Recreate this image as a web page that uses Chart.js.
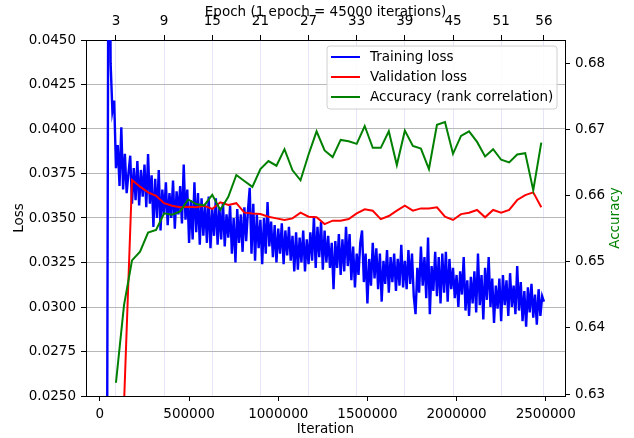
<!DOCTYPE html>
<html>
<head>
<meta charset="utf-8">
<script src="https://cdn.jsdelivr.net/npm/chart.js@4.4.0/dist/chart.umd.min.js"></script>
<style>
  body { margin: 0; background: #fff; }
  #wrap { width: 634px; height: 438px; }
</style>
</head>
<body>
<div id="wrap"><canvas id="myChart" width="634" height="438"></canvas></div>
<script>
// training loss, one value every 10000 iterations starting at 40000
let trainStart = 40000;
let trainStep = 10000;
let trainLoss = [
  0.0200, 0.0620, 0.0437, 0.0410, 0.0416, 0.0378, 0.0391, 0.0368, 0.0401, 0.0366,
  0.0386, 0.0364, 0.0375, 0.0385, 0.0358, 0.0378, 0.0360, 0.0382, 0.0357, 0.0377,
  0.0362, 0.0380, 0.0356, 0.0386, 0.0358, 0.0374, 0.0345, 0.0372, 0.0350, 0.0377,
  0.0343, 0.0366, 0.0352, 0.0370, 0.0346, 0.0364, 0.0350, 0.0371, 0.0344, 0.0365,
  0.0352, 0.0368, 0.0347, 0.0380, 0.0349, 0.0366, 0.0336, 0.0360, 0.0338, 0.0370,
  0.0342, 0.0364, 0.0335, 0.0361, 0.0340, 0.0358, 0.0336, 0.0362, 0.0333, 0.0355,
  0.0340, 0.0361, 0.0335, 0.0356, 0.0338, 0.0359, 0.0334, 0.0352, 0.0339, 0.0357,
  0.0330, 0.0350, 0.0325, 0.0355, 0.0336, 0.0352, 0.0331, 0.0356, 0.0337, 0.0354,
  0.0367, 0.0330, 0.0358, 0.0326, 0.0352, 0.0333, 0.0349, 0.0324, 0.0350, 0.0330,
  0.0359, 0.0334, 0.0348, 0.0328, 0.0346, 0.0325, 0.0344, 0.0330, 0.0347, 0.0324,
  0.0343, 0.0329, 0.0345, 0.0326, 0.0340, 0.0320, 0.0342, 0.0321, 0.0339, 0.0325,
  0.0343, 0.0320, 0.0338, 0.0324, 0.0342, 0.0326, 0.0351, 0.0322, 0.0345, 0.0328,
  0.0348, 0.0321, 0.0343, 0.0325, 0.0340, 0.0322, 0.0336, 0.0310, 0.0337, 0.0322,
  0.0341, 0.0318, 0.0338, 0.0320, 0.0345, 0.0323, 0.0341, 0.0315, 0.0334, 0.0311,
  0.0330, 0.0318, 0.0336, 0.0343, 0.0314, 0.0330, 0.0302, 0.0327, 0.0312, 0.0336,
  0.0316, 0.0333, 0.0310, 0.0330, 0.0303, 0.0326, 0.0313, 0.0332, 0.0308, 0.0328,
  0.0314, 0.0330, 0.0309, 0.0327, 0.0312, 0.0335, 0.0311, 0.0326, 0.0310, 0.0332,
  0.0313, 0.0330, 0.0306, 0.0296, 0.0322, 0.0308, 0.0334, 0.0312, 0.0328, 0.0305,
  0.0339, 0.0296, 0.0323, 0.0309, 0.0331, 0.0306, 0.0328, 0.0302, 0.0330, 0.0308,
  0.0331, 0.0303, 0.0327, 0.0310, 0.0322, 0.0305, 0.0318, 0.0300, 0.0320, 0.0307,
  0.0328, 0.0298, 0.0315, 0.0295, 0.0317, 0.0302, 0.0320, 0.0297, 0.0330, 0.0301,
  0.0318, 0.0293, 0.0322, 0.0304, 0.0328, 0.0300, 0.0316, 0.0291, 0.0312, 0.0299,
  0.0316, 0.0292, 0.0318, 0.0301, 0.0315, 0.0295, 0.0319, 0.0300, 0.0312, 0.0296,
  0.0323, 0.0298, 0.0314, 0.0292, 0.0309, 0.0289, 0.0311, 0.0297, 0.0313, 0.0294,
  0.0307, 0.0290, 0.0310, 0.0295, 0.0306, 0.0303
];

// validation loss and accuracy, once per epoch (45000 iterations), from epoch 2
let itersPerEpoch = 45000;
let firstEpoch = 2;
let valLoss = [
  0.0140, 0.0245, 0.03713, 0.03676, 0.03644, 0.03625, 0.03583, 0.03569, 0.03560, 0.03563,
  0.03560, 0.03569, 0.03551, 0.03588, 0.03573, 0.03583, 0.03530, 0.03525, 0.03522, 0.03507,
  0.03498, 0.03489, 0.03498, 0.03530, 0.03507, 0.03504, 0.03466, 0.03485, 0.03485, 0.03494,
  0.03526, 0.03549, 0.03541, 0.03494, 0.03511, 0.03541, 0.03569, 0.03541, 0.03554, 0.03554,
  0.03560, 0.03507, 0.03489, 0.03522, 0.03530, 0.03545, 0.03504, 0.03545, 0.03530, 0.03545,
  0.03601, 0.03629, 0.03644, 0.03560
];
let accuracy = [
  0.6317, 0.6434, 0.6502, 0.6515, 0.6544, 0.6548, 0.6573, 0.6571, 0.6576, 0.6594,
  0.6587, 0.6585, 0.6601, 0.6578, 0.6598, 0.6631, 0.6622, 0.6613, 0.6640, 0.6652,
  0.6645, 0.6670, 0.6638, 0.6623, 0.6662, 0.6697, 0.6668, 0.6658, 0.6684, 0.6682,
  0.6678, 0.6705, 0.6672, 0.6672, 0.6697, 0.6646, 0.6698, 0.6675, 0.6671, 0.6640,
  0.6707, 0.6711, 0.6663, 0.6690, 0.6697, 0.6681, 0.6659, 0.6670, 0.6654, 0.6650,
  0.6662, 0.6664, 0.6608, 0.6680
];

// axis ticks
let lossTicks = [0.025, 0.0275, 0.03, 0.0325, 0.035, 0.0375, 0.04, 0.0425, 0.045];
let accTicks = [0.63, 0.64, 0.65, 0.66, 0.67, 0.68];
let iterTicks = [0, 500000, 1000000, 1500000, 2000000, 2500000];
let epochTickIters = [90000, 360000, 630000, 900000, 1170000, 1440000, 1710000, 1980000, 2250000, 2490000];
let epochTickLabels = ["3", "9", "15", "21", "27", "33", "39", "45", "51", "56"];

let trainPts = trainLoss.map((v, i) => ({ x: trainStart + i * trainStep, y: v }));
let valPts = valLoss.map((v, i) => ({ x: (firstEpoch + i) * itersPerEpoch, y: v }));
let accPts = accuracy.map((v, i) => ({ x: (firstEpoch + i) * itersPerEpoch, y: v }));

let fontFam = "'DejaVu Sans', sans-serif";
let fontSize = 13.5;
Chart.defaults.font.family = fontFam;
Chart.defaults.font.size = fontSize;
Chart.defaults.color = "#000";

function setTicks(list) {
  return function(scale) {
    scale.ticks = list.map(v => ({ value: v }));
  };
}

// legend box and right axis title drawn by hand
let extras = {
  id: "extras",
  afterDraw(chart) {
    let ctx = chart.ctx;
    ctx.save();
    // legend
    let bx = 327, by = 46, bw = 230, bh = 63, r = 3;
    ctx.beginPath();
    ctx.moveTo(bx + r, by);
    ctx.arcTo(bx + bw, by, bx + bw, by + bh, r);
    ctx.arcTo(bx + bw, by + bh, bx, by + bh, r);
    ctx.arcTo(bx, by + bh, bx, by, r);
    ctx.arcTo(bx, by, bx + bw, by, r);
    ctx.closePath();
    ctx.fillStyle = "rgba(255,255,255,0.85)";
    ctx.fill();
    ctx.strokeStyle = "#d0d0d0";
    ctx.lineWidth = 1;
    ctx.stroke();
    ctx.font = fontSize + "px " + fontFam;
    ctx.textBaseline = "middle";
    ctx.textAlign = "left";
    chart.data.datasets.forEach((ds, i) => {
      let yy = 57 + i * 20;
      ctx.strokeStyle = ds.borderColor;
      ctx.lineWidth = 2;
      ctx.beginPath();
      ctx.moveTo(331, yy);
      ctx.lineTo(360, yy);
      ctx.stroke();
      ctx.fillStyle = "#000";
      ctx.fillText(ds.label, 370, yy);
    });
    // right title
    let ca = chart.chartArea;
    ctx.translate(615, (ca.top + ca.bottom) / 2);
    ctx.rotate(-Math.PI / 2);
    ctx.textAlign = "center";
    ctx.fillStyle = "#008000";
    ctx.fillText("Accuracy", 0, 0);
    ctx.restore();
  }
};

const ctxChart = document.getElementById("myChart");
new Chart(ctxChart, {
  type: "line",
  data: {
    datasets: [
      { label: "Training loss", data: trainPts, borderColor: "#0000ff", borderWidth: 2.4, pointRadius: 0, xAxisID: "x", yAxisID: "y", order: 3 },
      { label: "Validation loss", data: valPts, borderColor: "#ff0000", borderWidth: 2, pointRadius: 0, xAxisID: "x", yAxisID: "y", order: 2 },
      { label: "Accuracy (rank correlation)", data: accPts, borderColor: "#008000", borderWidth: 2, pointRadius: 0, xAxisID: "x", yAxisID: "y1", order: 1 }
    ]
  },
  options: {
    responsive: false,
    animation: false,
    events: [],
    layout: { padding: 0 },
    plugins: { legend: { display: false }, tooltip: { enabled: false } },
    scales: {
      x: {
        type: "linear", position: "bottom", min: -78000, max: 2608000,
        afterBuildTicks: setTicks(iterTicks),
        afterFit: s => { s.height = 42; },
        ticks: { padding: 5, maxRotation: 0, autoSkip: false, callback: v => String(v) },
        grid: { drawOnChartArea: false, tickLength: 5, tickColor: "#000" },
        border: { display: true, color: "#000", width: 1 },
        title: { display: true, text: "Iteration", padding: { top: 0, bottom: 0 } }
      },
      x2: {
        type: "linear", position: "top", min: -78000, max: 2608000,
        afterBuildTicks: setTicks(epochTickIters),
        afterFit: s => { s.height = 40; },
        ticks: { padding: 5, maxRotation: 0, autoSkip: false, callback: (v, i) => epochTickLabels[i] },
        grid: { drawOnChartArea: true, color: "#e6e6fa", lineWidth: 1, tickLength: 5, tickColor: "#000" },
        border: { display: true, color: "#000", width: 1 },
        title: { display: true, text: "Epoch (1 epoch = 45000 iterations)", padding: { top: 4, bottom: 0 } }
      },
      y: {
        type: "linear", position: "left", min: 0.025, max: 0.045,
        afterBuildTicks: setTicks(lossTicks),
        afterFit: s => { s.width = 86; },
        ticks: { padding: 5, autoSkip: false, callback: v => v.toFixed(4) },
        grid: {
          color: c => (c.index === 0 || c.index === lossTicks.length - 1) ? "rgba(0,0,0,0)" : "#b8b8b8",
          lineWidth: 1, tickLength: 5, tickColor: "#000"
        },
        border: { display: true, color: "#000", width: 1 },
        title: { display: true, text: "Loss", padding: { top: 11, bottom: 0 } }
      },
      y1: {
        type: "linear", position: "right", min: 0.6297, max: 0.6835,
        afterBuildTicks: setTicks(accTicks),
        afterFit: s => { s.width = 69; },
        ticks: { padding: 5, autoSkip: false, callback: v => v.toFixed(2) },
        grid: { drawOnChartArea: false, tickLength: 5, tickColor: "#000" },
        border: { display: true, color: "#000", width: 1 }
      }
    }
  },
  plugins: [extras]
});
</script>
</body>
</html>
